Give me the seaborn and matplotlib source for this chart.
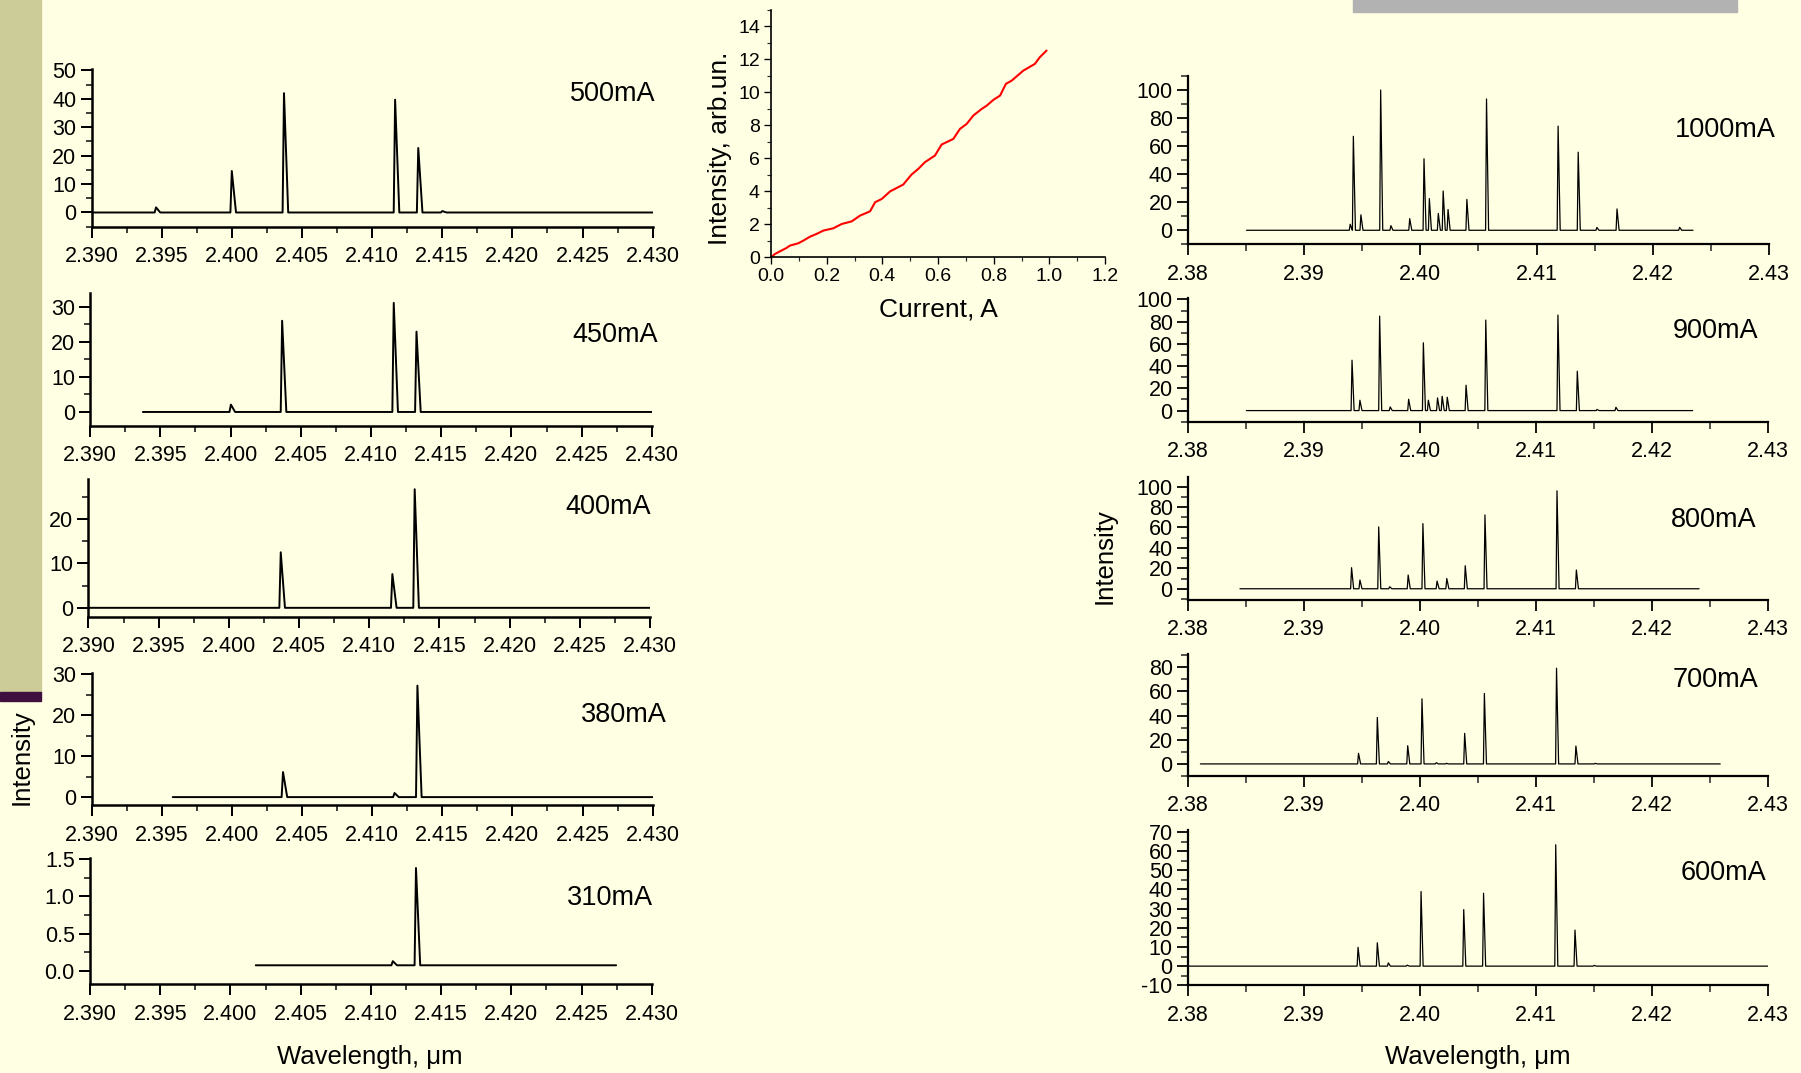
import matplotlib
matplotlib.use("Agg")
import pandas as pd
import seaborn as sns
import matplotlib.pyplot as plt
from matplotlib.ticker import MultipleLocator, FormatStrFormatter
from matplotlib.patches import Rectangle

# ---- data ----
# left column: low currents (start, end of recorded range, peak wavelengths, peak heights)
span_500 = [2.390, 2.430]
wl_500 = [2.3946, 2.4000, 2.40372, 2.41164, 2.41329, 2.4150]
int_500 = [1.8, 14.6, 42.0, 39.7, 22.7, 0.5]

span_450 = [2.39375, 2.430]
wl_450 = [2.40002, 2.40367, 2.41162, 2.41324]
int_450 = [2.1, 26.0, 31.1, 22.9]

span_400 = [2.390, 2.430]
wl_400 = [2.4037, 2.41165, 2.41324]
int_400 = [12.5, 7.6, 26.7]

span_380 = [2.39579, 2.430]
wl_380 = [2.40365, 2.4116, 2.41323]
int_380 = [6.1, 1.0, 27.2]

span_310 = [2.4018, 2.42746]
wl_310 = [2.41156, 2.41321]
int_310 = [0.13, 1.38]
base_310 = 0.075

# right column: high currents
span_1000 = [2.38504, 2.42346]
wl_1000 = [2.39396, 2.39423, 2.39488, 2.39658, 2.39746, 2.39908, 2.40031, 2.40077,
           2.40154, 2.40196, 2.40238, 2.4040, 2.40569, 2.41185, 2.41358, 2.41519,
           2.41692, 2.42231]
int_1000 = [4.3, 67.0, 11.0, 100.0, 3.3, 8.3, 51.0, 22.6, 12.0, 28.0, 14.8, 22.0,
            93.6, 74.3, 55.7, 2.0, 15.2, 2.1]

span_900 = [2.38503, 2.4235]
wl_900 = [2.39414, 2.39482, 2.39652, 2.39743, 2.39902, 2.40029, 2.40072, 2.40151,
          2.40191, 2.40235, 2.40397, 2.40567, 2.41189, 2.41356, 2.41526, 2.41689]
int_900 = [45.3, 9.3, 85.0, 3.3, 10.2, 61.0, 9.3, 11.4, 12.9, 12.0, 22.8, 81.4,
           85.9, 35.4, 1.0, 3.0]

span_800 = [2.38448, 2.42406]
wl_800 = [2.3941, 2.39482, 2.39644, 2.39739, 2.39898, 2.40025, 2.40147, 2.40231,
          2.4039, 2.4056, 2.41181, 2.41348]
int_800 = [20.6, 8.5, 60.5, 2.0, 13.4, 63.7, 7.5, 10.0, 22.5, 72.2, 95.8, 18.3]

span_700 = [2.38107, 2.42588]
wl_700 = [2.3947, 2.39632, 2.39727, 2.39894, 2.40017, 2.4014, 2.40227, 2.40385,
          2.40555, 2.41177, 2.41344, 2.4151]
int_700 = [8.8, 38.5, 2.0, 15.1, 53.9, 1.0, 0.5, 25.3, 58.3, 79.2, 14.8, 0.5]

span_600 = [2.380, 2.430]
wl_600 = [2.39466, 2.39632, 2.39727, 2.3989, 2.40009, 2.40377, 2.40548, 2.4117,
          2.41336, 2.41502]
int_600 = [9.8, 12.2, 1.7, 0.5, 38.9, 29.5, 38.0, 63.3, 18.8, 0.4]

# middle: integrated intensity vs current
current = [0, 0.014, 0.032, 0.056, 0.068, 0.098, 0.116, 0.14, 0.164, 0.188, 0.224,
           0.254, 0.29, 0.32, 0.356, 0.374, 0.398, 0.428, 0.475, 0.505, 0.529,
           0.553, 0.589, 0.613, 0.655, 0.679, 0.703, 0.727, 0.757, 0.775, 0.799,
           0.823, 0.844, 0.865, 0.907, 0.948, 0.966, 0.99]
total_int = [0, 0.2, 0.36, 0.57, 0.71, 0.85, 1.01, 1.25, 1.42, 1.62, 1.76, 2.02,
             2.18, 2.53, 2.79, 3.34, 3.54, 4.0, 4.41, 5.02, 5.36, 5.77, 6.17, 6.84,
             7.18, 7.79, 8.09, 8.6, 9.0, 9.2, 9.55, 9.81, 10.52, 10.72, 11.33,
             11.73, 12.14, 12.54]

# ---- style ----
sns.set_style("ticks")
plt.rcParams['font.family'] = ['Liberation Sans', 'DejaVu Sans']
plt.rcParams['axes.unicode_minus'] = False
BG = '#FFFFE3'
W, H = 1801, 1073

fig = plt.figure(figsize=(W / 100, H / 100), dpi=100)
fig.patch.set_facecolor(BG)

# slide decorations
fig.add_artist(Rectangle((0, 1 - 692 / H), 41 / W, 692 / H, transform=fig.transFigure,
                         color='#CCCC99', zorder=0))
fig.add_artist(Rectangle((0, 1 - 701 / H), 41 / W, 9 / H, transform=fig.transFigure,
                         color='#3F0F3F', zorder=0))
fig.add_artist(Rectangle((1353 / W, 1 - 12 / H), (1737 - 1353) / W, 12 / H,
                         transform=fig.transFigure, color='#B2B2B2', zorder=0))


def rect(x0, y0, x1, y1):
    return [x0 / W, 1 - y1 / H, (x1 - x0) / W, (y1 - y0) / H]


def profile(span, pos, hgt, base, wl, wr):
    xs, ys = [span[0]], [base]
    for p, h in zip(pos, hgt):
        xs += [p - wl, p, p + wr]
        ys += [base, h, base]
    xs.append(span[1])
    ys.append(base)
    return pd.DataFrame({'wl': xs, 'I': ys})


def style_ax(ax, major_len, minor_len, lsize, spw, xpad):
    for s in ['top', 'right']:
        ax.spines[s].set_visible(False)
    for s in ['left', 'bottom']:
        ax.spines[s].set_linewidth(spw)
        ax.spines[s].set_color('black')
    ax.set_facecolor('none')
    ax.tick_params(which='major', direction='out', length=major_len, width=spw * 0.8,
                   labelsize=lsize, pad=3, colors='black')
    ax.tick_params(axis='x', which='major', pad=xpad)
    ax.tick_params(which='minor', direction='out', length=minor_len, width=spw * 0.7)
    ax.set_xlabel('')
    ax.set_ylabel('')


def txt(x, y, s, size, **kw):
    fig.text(x / W, 1 - y / H, s, fontsize=size, color='black', **kw)


# left column
left = [
    (span_500, wl_500, int_500, 0, (91.5, 69, 652.7, 226.7), (-5, 50.5), 10, 5, '500mA', (656, 94)),
    (span_450, wl_450, int_450, 0, (90.2, 292.7, 651.8, 426), (-4, 34), 10, 5, '450mA', (658, 335)),
    (span_400, wl_400, int_400, 0, (88.4, 479, 650, 616.7), (-2, 29), 10, 5, '400mA', (651, 507)),
    (span_380, wl_380, int_380, 0, (91.5, 673.3, 652.7, 805.3), (-2, 30.2), 10, 5, '380mA', (667, 715)),
    (span_310, wl_310, int_310, base_310, (90, 858.3, 651.8, 984.3), (-0.18, 1.51), 0.5, 0.25, '310mA', (653, 898)),
]
for span, pos, hgt, base, box, ylim, maj, mnr, lab, lxy in left:
    ax = fig.add_axes(rect(*box))
    d = profile(span, pos, hgt, base, 0.0001, 0.0003)
    sns.lineplot(data=d, x='wl', y='I', ax=ax, color='black', lw=1.4,
                 estimator=None, sort=False)
    ax.set_xlim(2.390, 2.430)
    ax.set_ylim(*ylim)
    ax.xaxis.set_major_locator(MultipleLocator(0.005))
    ax.xaxis.set_minor_locator(MultipleLocator(0.0025))
    ax.xaxis.set_major_formatter(FormatStrFormatter('%.3f'))
    ax.yaxis.set_major_locator(MultipleLocator(maj))
    ax.yaxis.set_minor_locator(MultipleLocator(mnr))
    if maj < 1:
        ax.yaxis.set_major_formatter(FormatStrFormatter('%.1f'))
    style_ax(ax, 8, 4.5, 15.5, 1.8, 6)
    txt(lxy[0], lxy[1], lab, 19.5, ha='right', va='center')

txt(22, 757, 'Intensity', 18.5, rotation=90, ha='center', va='center')
txt(370, 1057, 'Wavelength, μm', 18.5, ha='center', va='center')

# middle
ax = fig.add_axes(rect(771, 10, 1105, 257.3))
sns.lineplot(x=current, y=total_int, ax=ax, color='#FF0000', lw=1.5,
             estimator=None, sort=False)
ax.set_xlim(0, 1.2)
ax.set_ylim(0, 15)
ax.xaxis.set_major_locator(MultipleLocator(0.2))
ax.xaxis.set_minor_locator(MultipleLocator(0.1))
ax.xaxis.set_major_formatter(FormatStrFormatter('%.1f'))
ax.yaxis.set_major_locator(MultipleLocator(2))
ax.yaxis.set_minor_locator(MultipleLocator(1))
style_ax(ax, 5, 3, 14, 1.2, 3)
txt(938, 310, 'Current, A', 19, ha='center', va='center')
txt(720, 148, 'Intensity, arb.un.', 19, rotation=90, ha='center', va='center')

# right column
right = [
    (span_1000, wl_1000, int_1000, (1188, 76, 1769, 244.3), (-10, 110), 20, 10, '1000mA', (1776, 130)),
    (span_900, wl_900, int_900, (1188, 298.3, 1768, 421.7), (-10, 101), 20, 10, '900mA', (1758, 331)),
    (span_800, wl_800, int_800, (1188, 477.3, 1768, 600), (-11, 109), 20, 10, '800mA', (1756, 520)),
    (span_700, wl_700, int_700, (1188, 654, 1768, 776), (-10, 91), 20, 10, '700mA', (1758, 680)),
    (span_600, wl_600, int_600, (1188, 830, 1768, 985.3), (-10, 71), 10, 5, '600mA', (1766, 873)),
]
for span, pos, hgt, box, ylim, maj, mnr, lab, lxy in right:
    ax = fig.add_axes(rect(*box))
    d = profile(span, pos, hgt, 0, 0.00008, 0.00018)
    sns.lineplot(data=d, x='wl', y='I', ax=ax, color='black', lw=0.9,
                 estimator=None, sort=False)
    ax.set_xlim(2.38, 2.43)
    ax.set_ylim(*ylim)
    ax.xaxis.set_major_locator(MultipleLocator(0.01))
    ax.xaxis.set_minor_locator(MultipleLocator(0.005))
    ax.xaxis.set_major_formatter(FormatStrFormatter('%.2f'))
    ax.yaxis.set_major_locator(MultipleLocator(maj))
    ax.yaxis.set_minor_locator(MultipleLocator(mnr))
    style_ax(ax, 8, 5, 15.5, 1.6, 6)
    txt(lxy[0], lxy[1], lab, 19.5, ha='right', va='center')

txt(1105, 556, 'Intensity', 18.5, rotation=90, ha='center', va='center')
txt(1478, 1057, 'Wavelength, μm', 18.5, ha='center', va='center')

fig.savefig('out.png', dpi=100, facecolor=fig.get_facecolor())
